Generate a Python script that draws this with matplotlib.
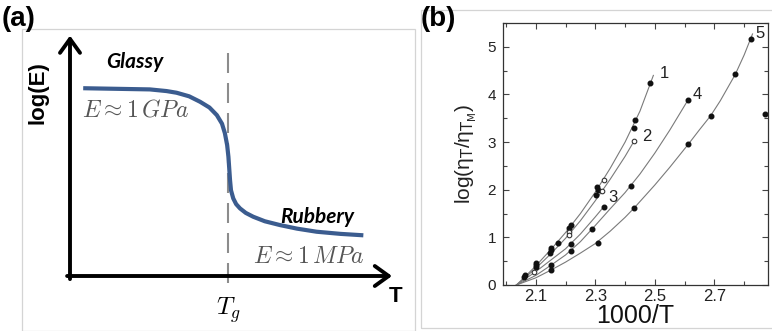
import matplotlib
matplotlib.use('Agg')
import matplotlib.pyplot as plt
from matplotlib.patches import Rectangle
from matplotlib.ticker import MultipleLocator

plt.rcParams['font.family'] = ['Liberation Sans', 'DejaVu Sans']

# ---- panel (a): schematic modulus vs temperature (arbitrary 0-10 units)
modulus_T = [0.41, 2.48, 3.0, 3.31, 3.7, 4.04, 4.33, 4.56, 4.72, 4.81, 4.88, 4.92, 4.97, 5.0,
             5.07, 5.16, 5.28, 5.46, 5.69, 6.05, 6.52, 7.05, 7.66, 8.4, 9.11]
modulus_logE = [7.89, 7.84, 7.77, 7.70, 7.55, 7.32, 7.08, 6.76, 6.4, 6.0, 5.5, 5.01, 4.03, 3.6,
                3.26, 3.02, 2.84, 2.65, 2.49, 2.3, 2.14, 1.99, 1.86, 1.77, 1.71]
Tg = 4.91

# ---- panel (b): log viscosity ratio vs 1000/T
curve1_x = [2.035, 2.06, 2.1, 2.15, 2.2, 2.25, 2.3, 2.35, 2.4, 2.45, 2.483, 2.495]
curve1_y = [0, 0.15, 0.40, 0.74, 1.1, 1.5, 1.95, 2.45, 3.0, 3.65, 4.2, 4.4]
curve2_x = [2.035, 2.1, 2.15, 2.2, 2.25, 2.3, 2.35, 2.4, 2.431]
curve2_y = [0, 0.35, 0.65, 0.98, 1.35, 1.77, 2.22, 2.7, 3.03]
curve3_x = [2.035, 2.1, 2.15, 2.2, 2.25, 2.3, 2.328]
curve3_y = [0, 0.28, 0.52, 0.76, 1.07, 1.43, 1.64]
curve4_x = [2.035, 2.1, 2.15, 2.2, 2.25, 2.3, 2.35, 2.4, 2.45, 2.5, 2.55, 2.611]
curve4_y = [0, 0.2, 0.41, 0.63, 0.91, 1.25, 1.6, 1.94, 2.33, 2.77, 3.25, 3.88]
curve5_x = [2.035, 2.1, 2.15, 2.2, 2.25, 2.3, 2.35, 2.4, 2.431, 2.5, 2.55, 2.613, 2.65, 2.687, 2.72, 2.77, 2.8, 2.828]
curve5_y = [0, 0.15, 0.31, 0.48, 0.67, 0.87, 1.13, 1.42, 1.62, 2.1, 2.47, 2.96, 3.26, 3.55, 3.87, 4.42, 4.83, 5.27]
curves = [(curve1_x, curve1_y), (curve2_x, curve2_y), (curve3_x, curve3_y),
          (curve4_x, curve4_y), (curve5_x, curve5_y)]

filled_x = [2.483, 2.433, 2.43, 2.306, 2.31, 2.302, 2.22, 2.213, 2.174, 2.15, 2.15, 2.148,
            2.102, 2.102, 2.102, 2.063, 2.06,
            2.328, 2.217,
            2.611, 2.42, 2.289, 2.217, 2.152,
            2.822, 2.77, 2.687, 2.613, 2.431, 2.308, 2.152, 2.869]
filled_y = [4.25, 3.46, 3.29, 2.05, 2.0, 1.89, 1.27, 1.20, 0.88, 0.78, 0.73, 0.68,
            0.47, 0.42, 0.37, 0.22, 0.17,
            1.64, 0.86,
            3.88, 2.07, 1.18, 0.72, 0.42,
            5.17, 4.42, 3.55, 2.96, 1.62, 0.89, 0.31, 3.6]
open_x = [2.431, 2.328, 2.322, 2.213, 2.211, 2.094]
open_y = [3.03, 2.21, 1.97, 1.12, 1.04, 0.28]

curve_labels = ['1', '2', '3', '4', '5']
label_x = [2.533, 2.472, 2.36, 2.643, 2.853]
label_y = [4.43, 3.11, 1.84, 3.99, 5.29]

fig = plt.figure(figsize=(7.72, 3.31), dpi=100)
W, H = 772.0, 331.0

# light panel frames
fig.patches.append(Rectangle((22 / W, 0), (415 - 22) / W, 1 - 29 / H, transform=fig.transFigure,
                             fill=False, ec='#d4d4d4', lw=0.9))
fig.patches.append(Rectangle((421 / W, 3 / H), (W + 5 - 421) / W, (328 - 10) / H, transform=fig.transFigure,
                             fill=False, ec='#d4d4d4', lw=0.9))

# ---------------- panel (a)
axa = fig.add_axes([70 / W, 1 - 276 / H, 322 / W, 238 / H])
axa.set_xlim(0, 10)
axa.set_ylim(0, 10)
axa.axis('off')

arrow = dict(arrowstyle='->,head_length=0.5,head_width=0.36', lw=2.8, color='black',
             mutation_scale=20, shrinkA=0, shrinkB=0)
axa.annotate('', xy=(0, 1.01), xytext=(0, -0.013), xycoords='axes fraction',
             textcoords='axes fraction', arrowprops=arrow)
axa.annotate('', xy=(1.0, 0), xytext=(-0.009, 0), xycoords='axes fraction',
             textcoords='axes fraction', arrowprops=arrow)

axa.plot([Tg, Tg], [9.37, -0.46], color='#8c8c8c', lw=1.5, ls=(0, (9.6, 4.8)), clip_on=False)
axa.plot(modulus_T, modulus_logE, color='#3b5c8f', lw=3.0, solid_capstyle='butt',
         solid_joinstyle='round', clip_on=False)

axa.text(2.02, 8.99, 'Glassy', family=['Lato', 'DejaVu Sans'], weight='bold', style='italic',
         fontsize=15, ha='center', va='center')
axa.text(7.67, 2.48, 'Rubbery', family=['Lato', 'DejaVu Sans'], weight='bold', style='italic',
         fontsize=15, ha='center', va='center')
axa.text(0.37, 6.97, r'$E \approx 1\,GPa$', math_fontfamily='cm', fontsize=17, color='#555555',
         ha='left', va='center')
axa.text(5.68, 0.80, r'$E \approx 1\,MPa$', math_fontfamily='cm', fontsize=17, color='#555555',
         ha='left', va='center')
axa.text(Tg, -1.43, r'$T_g$', math_fontfamily='cm', fontsize=18, ha='center', va='center',
         clip_on=False)
axa.text(10.1, -0.88, 'T', fontsize=16, weight='bold', ha='center', va='center')
axa.text(-0.99, 7.69, 'log(E)', fontsize=16, weight='bold', rotation=90, ha='center', va='center')

fig.text(2 / W, 1 - 19 / H, '(a)', fontsize=20, weight='bold', ha='left', va='center')
fig.text(421 / W, 1 - 19 / H, '(b)', fontsize=20, weight='bold', ha='left', va='center')

# ---------------- panel (b)
axb = fig.add_axes([503 / W, 1 - 285 / H, 265 / W, 262 / H])
for cx, cy in curves:
    axb.plot(cx, cy, color='#7a7a7a', lw=0.8)
axb.plot(filled_x, filled_y, 'o', ms=3.3, color='#111111', mec='#111111', ls='none')
axb.plot(open_x, open_y, 'o', ms=3.3, mfc='white', mec='#333333', mew=0.8, ls='none')
for t, lx, ly in zip(curve_labels, label_x, label_y):
    axb.text(lx, ly, t, fontsize=12, ha='center', va='center', color='#222222')

axb.set_xlim(1.99, 2.88)
axb.set_ylim(0, 5.5)
axb.set_xticks([2.1, 2.3, 2.5, 2.7])
axb.xaxis.set_minor_locator(MultipleLocator(0.1))
axb.yaxis.set_major_locator(MultipleLocator(1))
axb.yaxis.set_minor_locator(MultipleLocator(0.5))
axb.tick_params(which='both', direction='in', top=True, right=True, color='#444444')
axb.tick_params(which='major', length=4, width=0.8)
axb.tick_params(which='minor', length=3, width=0.8)
axb.tick_params(axis='x', labelsize=12, pad=3, labelcolor='#222222')
axb.tick_params(axis='y', labelsize=11, pad=5, labelcolor='#222222')
for s in axb.spines.values():
    s.set_color('#333333')
    s.set_linewidth(0.9)

axb.set_xlabel('1000/T', fontsize=18, labelpad=0, color='#111111')
axb.set_ylabel(r'log(η$_\mathrm{T}$/η$_{\mathrm{T}_\mathrm{M}}$)', fontsize=15, color='#222222',
               labelpad=6)
axb.yaxis.label.set_math_fontfamily('dejavusans')

fig.savefig('out.png', dpi=100)
